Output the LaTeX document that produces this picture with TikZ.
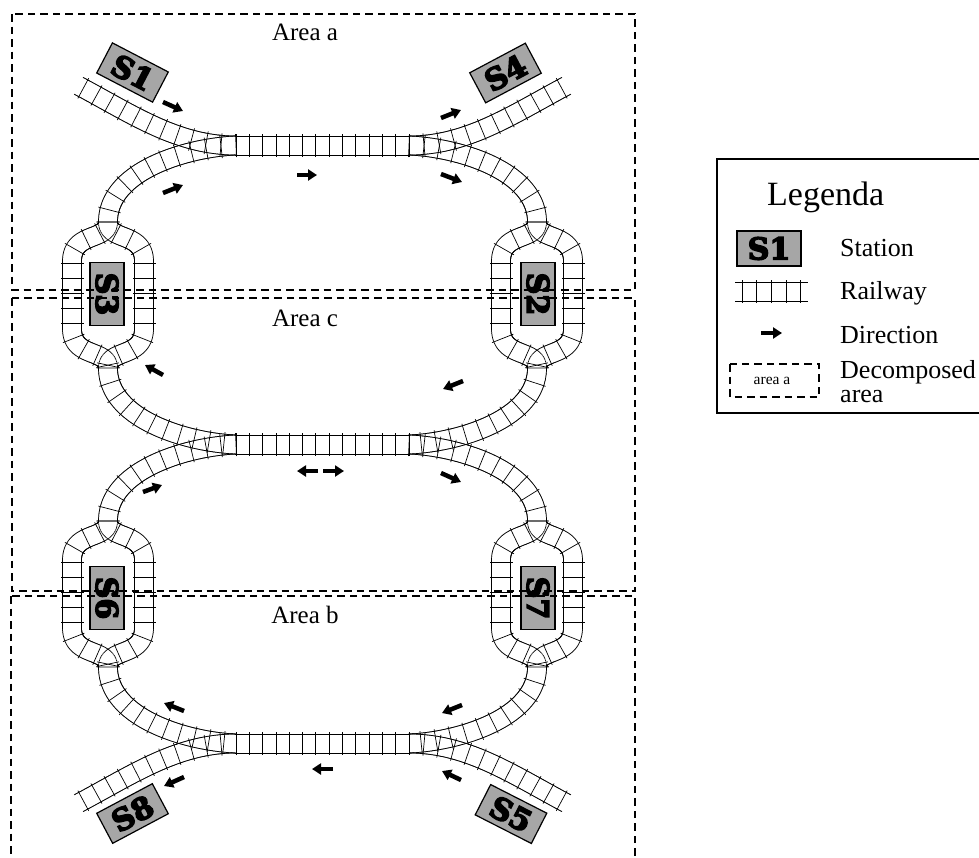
\documentclass[tikz,border=0pt]{standalone}
\usepackage{fontspec}
\setmainfont{Liberation Serif}
\newfontfamily\stationfont{DejaVu Serif}[BoldFeatures={FakeBold=5}]
\usetikzlibrary{arrows.meta,decorations.markings}
\definecolor{stationgray}{HTML}{A6A6A6}

\begin{document}
\begin{tikzpicture}[x=1pt, y=-1pt,
    station/.style={rectangle, draw, line width=1.2pt, fill=stationgray, inner sep=0pt,
                    minimum width=63pt, minimum height=34pt,
                    font=\stationfont\bfseries\fontsize{30}{30}\selectfont},
    rails/.style={postaction={decorate, decoration={markings,
                  mark=between positions 0 and 1 step 1pt with {\draw[line width=0.7pt] (-0.8,-9.5) -- (0.8,-9.5) (-0.8,9.5) -- (0.8,9.5);}}}},
    sleepers/.style={postaction={decorate, decoration={markings,
                  mark=between positions 0 and 1 step #1 with {\draw[line width=0.7pt] (0,-11.5) -- (0,11.5);}}}},
    railway/.style={rails, sleepers=#1},
    railway/.default=15pt,
    direction/.style={-{Triangle[length=9pt, width=11pt]}, line width=4.5pt},
    area/.style={draw, line width=1.7pt, dash pattern=on 7.5pt off 5pt},
    areatext/.style={font=\fontsize{25}{25}\selectfont, inner sep=0pt},
    legendtext/.style={anchor=base west, inner sep=0pt, align=left,
                  font=\fontsize{26}{24}\selectfont}]
    \path[use as bounding box, clip] (0,0) rectangle (979,857);

    % straight parts
    \foreach \y in {145.5,444.5,743.5} {
        \path[railway=13.3pt] (236,\y) -- (409.1,\y);
    }

    % everything else is mirrored around the middle of the straight parts
    \foreach \side in {1,-1} {
    \begin{scope}[shift={(322.5,0)}, xscale=\side]
        \path[railway] (-86.5,145.5) .. controls (-145,145.5) and (-190,114.5) .. (-243.5,86);
        \path[railway] (-86.5,743.5) .. controls (-145,743.5) and (-190,774.5) .. (-243.5,803);
        \foreach \y in {145.5,444.5} {
            \path[railway] (-86.5,\y) .. controls (-135,\y+2) and (-214.5,\y+25) .. (-214.5,\y+76.5);
            \path[railway] (-214.5,\y+222.5) .. controls (-214.5,\y+274) and (-135,\y+297) .. (-86.5,\y+299);
            % both ways around the station
            \foreach \lobe in {-250.5,-178.5} {
                \path[railway] (-214.5,\y+76.5) .. controls (-214.5,\y+96) and (\lobe,\y+86) .. (\lobe,\y+116)
                    -- (\lobe,\y+183) .. controls (\lobe,\y+213) and (-214.5,\y+203) .. (-214.5,\y+222.5);
            }
        }
    \end{scope}
    }

    % stations
    \node[station, rotate=-27.5] (s1) at (132.5,72.5) {S1};
    \node[station, rotate=28] (s4) at (505.5,73) {S4};
    \node[station, rotate=-90] (s3) at (107,294) {S3};
    \node[station, rotate=-90] (s2) at (538,294) {S2};
    \node[station, rotate=-90] (s6) at (107,598) {S6};
    \node[station, rotate=-90] (s7) at (538,598) {S7};
    \node[station, rotate=28] (s8) at (132.5,813.5) {S8};
    \node[station, rotate=-27] (s5) at (511,814) {S5};

    % decomposed areas
    \draw[area] (12,14) rectangle (635,290);
    \draw[area] (12,298) rectangle (635,591);
    \draw[area] (11,596) rectangle (635,870);
    \node[areatext] (areaa) at (305,32) {Area a};
    \node[areatext] (areac) at (305,318) {Area c};
    \node[areatext] (areab) at (305,615) {Area b};

    % directions
    \foreach \xa/\ya/\xb/\yb in {163/102/183/111, 163/193/183/185, 297/175/317/175, 441/118/461/110,
        441/174/462/182, 163/375/145/365, 463/381/443/389, 318/471/297/471, 323/471/344/471,
        441/473/461/482, 143/492/162/485, 184/711/164/703, 462/705/442/713, 333/769/312/769,
        184/777/164/786, 461/780/442/771} {
        \draw[direction] (\xa,\ya) -- (\xb,\yb);
    }

    % legend
    \node[draw, line width=1.5pt, minimum width=290pt, minimum height=254pt, anchor=north west, inner sep=0pt] (legend) at (716,158) {};
    \node[inner sep=0pt, anchor=base west, font=\fontsize{34}{34}\selectfont] (legenda) at (767,205) {Legenda};
    \node[station, minimum width=64pt, minimum height=35pt] (s1key) at (769,248.5) {S1};
    \node[legendtext] (stationkey) at (840,256) {Station};
    \path[rails] (736,291.5) -- (807,291.5);
    \path[sleepers=14.7pt] (742,291.5) -- (801.5,291.5);
    \node[legendtext] (railwaykey) at (840,299) {Railway};
    \draw[direction] (761,333) -- (782,333);
    \node[legendtext] (directionkey) at (840,343) {Direction};
    \draw[area] (730,364) rectangle (819,397);
    \node[inner sep=0pt, font=\fontsize{15.5}{15.5}\selectfont] (areakey) at (772,381) {area a};
    \node[legendtext] (decomposedkey) at (840,402) {Decomposed\\area};
\end{tikzpicture}
\end{document}
